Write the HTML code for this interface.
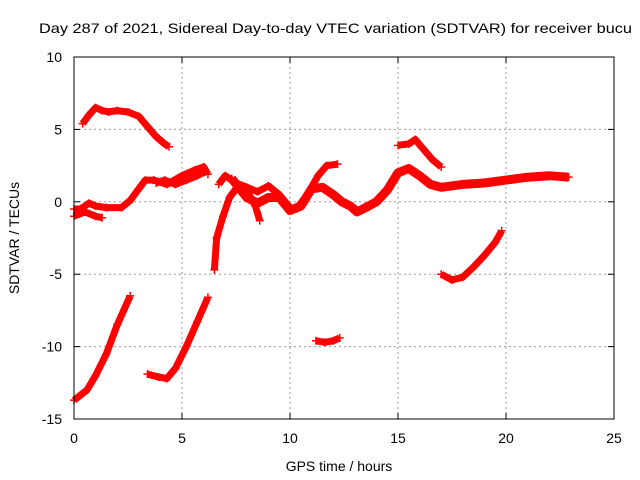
<!DOCTYPE html>
<html><head><meta charset="utf-8"><style>
body{margin:0;background:#fff}
svg{display:block;font-family:"Liberation Sans",sans-serif}
</style></head><body>
<svg id="chart" width="640" height="480" viewBox="0 0 640 480" xmlns="http://www.w3.org/2000/svg">
<rect width="640" height="480" fill="#fff"/>
<text x="39" y="33" font-size="14" textLength="593" lengthAdjust="spacingAndGlyphs">Day 287 of 2021, Sidereal Day-to-day VTEC variation (SDTVAR) for receiver bucu</text>
<g id="grid"></g>
<g id="series"></g>
<rect x="74" y="57" width="540" height="362" fill="none" stroke="#000" stroke-width="1"/>
<g id="ticks"></g>
<text x="339" y="471" font-size="14" text-anchor="middle">GPS time / hours</text>
<text transform="translate(19,238) rotate(-90)" font-size="14" text-anchor="middle">SDTVAR / TECUs</text>
</svg>
<script>
const xTicks=[0,5,10,15,20,25];
const yTicks=[10,5,0,-5,-10,-15];
const seriesTopArc=[[0.4,5.4],[0.7,6.0],[1.0,6.5],[1.3,6.3],[1.6,6.2],[2.0,6.3],[2.5,6.2],[3.0,5.9],[3.4,5.2],[3.8,4.5],[4.2,4.0],[4.4,3.8]];
const seriesBandA=[[0,-0.5],[0.3,-0.5],[0.7,-0.1],[1.0,-0.3],[1.5,-0.4],[2.2,-0.4],[2.6,0.1],[3.0,0.9],[3.3,1.5],[3.7,1.5],[4.3,1.2],[5.0,1.8],[5.6,2.2],[6.0,2.4],[6.2,1.9]];
const seriesBandB=[[0,-1.0],[0.5,-0.7],[1.0,-1.0],[1.3,-1.1]];
const seriesBandC=[[3.8,1.3],[4.2,1.5],[4.7,1.2],[5.2,1.5],[5.7,1.8],[6.1,2.1]];
const seriesDip=[[6.5,-4.7],[6.6,-2.5],[6.9,-1.0],[7.2,0.3],[7.5,0.9],[8.0,0.8],[8.4,-0.3],[8.6,-1.3]];
const seriesMidUpper=[[6.7,1.2],[7.0,1.8],[7.5,1.3],[8.0,1.0],[8.5,0.7],[9.0,1.1],[9.5,0.5],[10.0,-0.4],[10.3,-0.5],[10.8,0.5],[11.3,1.8],[11.7,2.5],[12.2,2.6]];
const seriesMain=[[7.3,1.6],[8.0,0.3],[8.5,-0.1],[9.0,0.3],[9.5,0.3],[10.0,-0.6],[10.5,-0.3],[11.0,0.9],[11.5,1.0],[12.0,0.5],[12.4,0.0],[12.8,-0.3],[13.1,-0.7],[13.5,-0.4],[14.0,0.0],[14.5,0.8],[15.0,2.0],[15.5,2.3],[16.0,1.8],[16.5,1.2],[17.0,1.0],[18.0,1.2],[19.0,1.3],[20.0,1.5],[21.0,1.7],[22.0,1.8],[22.9,1.7]];
const seriesUpper15=[[15.0,3.9],[15.5,4.0],[15.8,4.3],[16.2,3.6],[16.6,2.9],[17.0,2.4]];
const seriesRise17=[[17.0,-5.0],[17.5,-5.4],[18.0,-5.2],[18.5,-4.5],[19.0,-3.7],[19.5,-2.8],[19.8,-2.0]];
const seriesRise0=[[0,-13.7],[0.6,-13.0],[1.0,-12.0],[1.5,-10.5],[2.0,-8.5],[2.6,-6.5]];
const seriesRise3=[[3.4,-11.9],[3.9,-12.1],[4.3,-12.2],[4.7,-11.5],[5.2,-10.0],[5.7,-8.3],[6.2,-6.6]];
const seriesShort11=[[11.2,-9.6],[11.6,-9.7],[12.0,-9.6],[12.3,-9.4]];
const allSeries=[seriesTopArc,seriesBandA,seriesBandB,seriesBandC,seriesDip,seriesMidUpper,seriesMain,seriesUpper15,seriesRise17,seriesRise0,seriesRise3,seriesShort11];
const NS="http://www.w3.org/2000/svg";
const X0=74,X1=614,Y0=419,Y1=57;
function sx(v){return X0+(v-0)/(25-0)*(X1-X0);}
function sy(v){return Y0-(v+15)/(10+15)*(Y0-Y1);}
function mk(t,a,p){const e=document.createElementNS(NS,t);for(const k in a)e.setAttribute(k,a[k]);p.appendChild(e);return e;}
const grid=document.getElementById('grid'),ticks=document.getElementById('ticks'),ser=document.getElementById('series');
xTicks.forEach(v=>{
 const x=sx(v);
 if(v>0&&v<25){const g=mk('line',{x1:x,x2:x,y1:Y1,y2:Y0,stroke:'#999','stroke-dasharray':'2,3'},grid);
 
 }
 const t=mk('text',{x:x,y:443,'font-size':14,'text-anchor':'middle'},ticks);t.textContent=v;
 
 
 mk('line',{x1:x,x2:x,y1:Y0,y2:Y0-6,stroke:'#000'},ticks);
 mk('line',{x1:x,x2:x,y1:Y1,y2:Y1+6,stroke:'#000'},ticks);
});
yTicks.forEach(v=>{
 const y=sy(v);
 if(v>-15&&v<10){const g=mk('line',{x1:X0,x2:X1,y1:y,y2:y,stroke:'#999','stroke-dasharray':'2,3'},grid);
 
 }
 const t=mk('text',{x:62,y:y+5,'font-size':14,'text-anchor':'end'},ticks);t.textContent=v;
 
 
 mk('line',{x1:X0,x2:X0+6,y1:y,y2:y,stroke:'#000'},ticks);
 mk('line',{x1:X1,x2:X1-6,y1:y,y2:y,stroke:'#000'},ticks);
});
allSeries.forEach(s=>{
 const d=s.map((p,i)=>(i?'L':'M')+sx(p[0]).toFixed(1)+','+sy(p[1]).toFixed(1)).join('');
 const w=(s===seriesMain)?9:7;
 const path=mk('path',{d:d,fill:'none',stroke:'#f00','stroke-width':w,'stroke-linejoin':'round','stroke-linecap':'butt'},ser);
 
 
 s.forEach(p=>{
  const x=sx(p[0]),y=sy(p[1]);
  const m=mk('path',{d:`M${x-4},${y}h8M${x},${y-4}v8`,stroke:'#f00','stroke-width':1.5},ser);
  
  
 });
});
</script>
</body></html>
